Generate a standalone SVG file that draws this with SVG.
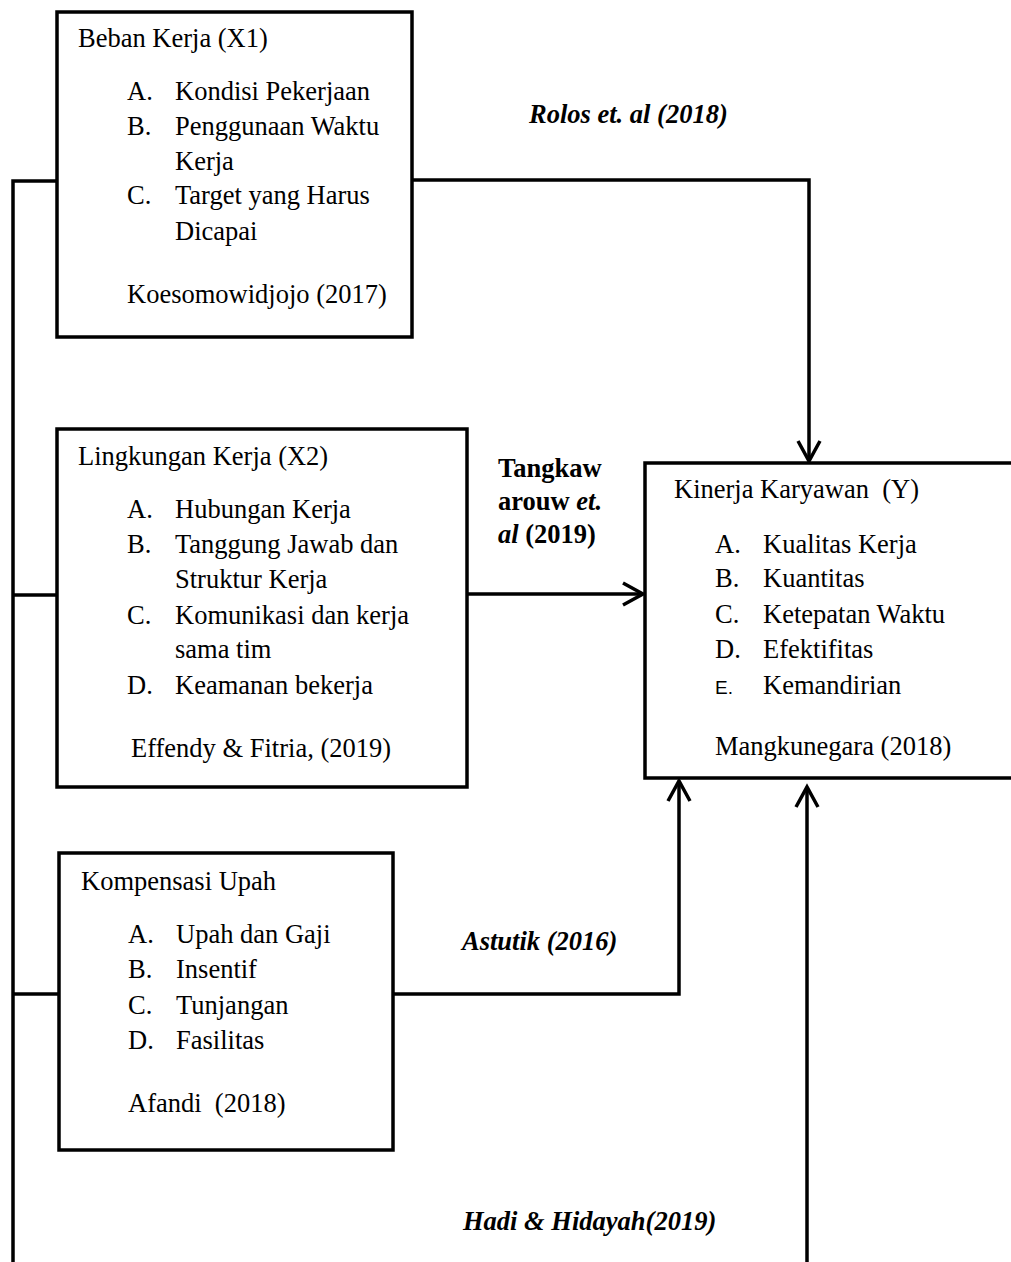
<svg xmlns="http://www.w3.org/2000/svg" width="1011" height="1262" viewBox="0 0 1011 1262">
<style>
.box{fill:#fff;stroke:#000;stroke-width:3.5}
.t{font-family:"Liberation Serif","Times New Roman",serif;font-size:26.5px;fill:#000}
.b{font-weight:bold}
.bi{font-weight:bold;font-style:italic}
.sans{font-family:"Liberation Sans",Arial,sans-serif;font-size:19px;fill:#000}
.ln{fill:none;stroke:#000;stroke-width:3.5}
</style>
<defs>
<marker id="ah" markerUnits="userSpaceOnUse" markerWidth="30" markerHeight="30" viewBox="-25 -15 30 30" refX="0" refY="0" orient="auto">
<path d="M-20,-11 L0,0 L-20,11" fill="none" stroke="#000" stroke-width="3.5"/>
</marker>
</defs>
<rect width="1011" height="1262" fill="#fff"/>
<g id="connectors">
<path class="ln" d="M13,1262 V181 H57"/>
<path class="ln" d="M13,595 H57"/>
<path class="ln" d="M13,994 H59"/>
<path class="ln" d="M412,180 H809 V461" marker-end="url(#ah)"/>
<path class="ln" d="M467,594 H643" marker-end="url(#ah)"/>
<path class="ln" d="M393,994 H679 V781" marker-end="url(#ah)"/>
<path class="ln" d="M807,1262 V787" marker-end="url(#ah)"/>
</g>
<g id="node-x1">
<rect class="box" x="57" y="12" width="355" height="325"/>
<text class="t" x="78" y="47">Beban Kerja (X1)</text>
<text class="t" x="127" y="100">A.</text><text class="t" x="175" y="100">Kondisi Pekerjaan</text>
<text class="t" x="127" y="135">B.</text><text class="t" x="175" y="135">Penggunaan Waktu</text>
<text class="t" x="175" y="170">Kerja</text>
<text class="t" x="127" y="204">C.</text><text class="t" x="175" y="204">Target yang Harus</text>
<text class="t" x="175" y="240">Dicapai</text>
<text class="t" x="127" y="303">Koesomowidjojo (2017)</text>
</g>
<g id="node-x2">
<rect class="box" x="57" y="429" width="410" height="358"/>
<text class="t" x="78" y="465">Lingkungan Kerja (X2)</text>
<text class="t" x="127" y="518">A.</text><text class="t" x="175" y="518">Hubungan Kerja</text>
<text class="t" x="127" y="553">B.</text><text class="t" x="175" y="553">Tanggung Jawab dan</text>
<text class="t" x="175" y="588">Struktur Kerja</text>
<text class="t" x="127" y="624">C.</text><text class="t" x="175" y="624">Komunikasi dan kerja</text>
<text class="t" x="175" y="658">sama tim</text>
<text class="t" x="127" y="694">D.</text><text class="t" x="175" y="694">Keamanan bekerja</text>
<text class="t" x="131" y="757">Effendy &amp; Fitria, (2019)</text>
</g>
<g id="node-x3">
<rect class="box" x="59" y="853" width="334" height="297"/>
<text class="t" x="81" y="890">Kompensasi Upah</text>
<text class="t" x="128" y="943">A.</text><text class="t" x="176" y="943">Upah dan Gaji</text>
<text class="t" x="128" y="978">B.</text><text class="t" x="176" y="978">Insentif</text>
<text class="t" x="128" y="1014">C.</text><text class="t" x="176" y="1014">Tunjangan</text>
<text class="t" x="128" y="1049">D.</text><text class="t" x="176" y="1049">Fasilitas</text>
<text class="t" x="128" y="1112" xml:space="preserve">Afandi  (2018)</text>
</g>
<g id="node-y">
<rect class="box" x="645" y="463" width="400" height="315"/>
<text class="t" x="674" y="498" xml:space="preserve">Kinerja Karyawan  (Y)</text>
<text class="t" x="715" y="553">A.</text><text class="t" x="763" y="553">Kualitas Kerja</text>
<text class="t" x="715" y="587">B.</text><text class="t" x="763" y="587">Kuantitas</text>
<text class="t" x="715" y="623">C.</text><text class="t" x="763" y="623">Ketepatan Waktu</text>
<text class="t" x="715" y="658">D.</text><text class="t" x="763" y="658">Efektifitas</text>
<text class="sans" x="715" y="694">E.</text><text class="t" x="763" y="694">Kemandirian</text>
<text class="t" x="715" y="755">Mangkunegara (2018)</text>
</g>
<g id="labels">
<text class="t bi" x="529" y="123">Rolos et. al (2018)</text>
<text class="t b" x="498" y="477">Tangkaw</text>
<text class="t b" x="498" y="510">arouw <tspan class="bi">et.</tspan></text>
<text class="t b" x="498" y="543"><tspan class="bi">al</tspan> (2019)</text>
<text class="t bi" x="462" y="950">Astutik (2016)</text>
<text class="t bi" x="463" y="1230">Hadi &amp; Hidayah(2019)</text>
</g>
</svg>
